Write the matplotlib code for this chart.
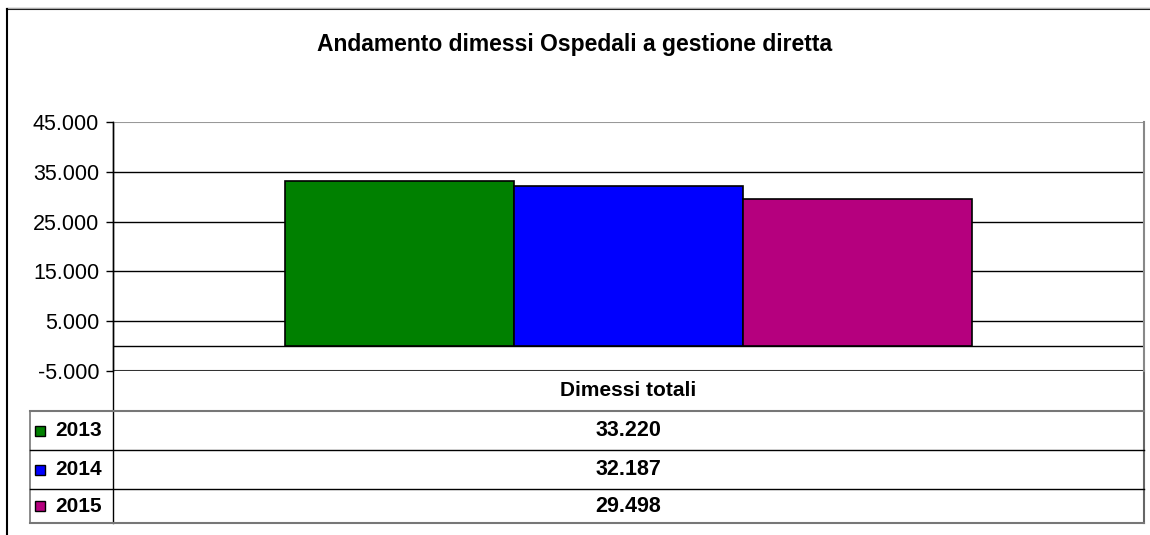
import matplotlib.pyplot as plt
from matplotlib.lines import Line2D
from matplotlib.patches import Rectangle
import numpy as np

plt.rcParams['font.family'] = ['Liberation Sans', 'DejaVu Sans']

# data
years = ["2013", "2014", "2015"]
dimessi = [33220, 32187, 29498]
colors = ["#008000", "#0000FF", "#B5007E"]
category = "Dimessi totali"
yticks = [-5000, 5000, 15000, 25000, 35000, 45000]
title = "Andamento dimessi Ospedali a gestione diretta"

W, H = 1150, 535
fig = plt.figure(figsize=(W / 100, H / 100), dpi=100)

# pixel helpers
def fx(px):
    return px / W

def fy(py):
    return 1 - py / H

# overlay axes in pixel coords for frame + table
ov = fig.add_axes([0, 0, 1, 1], zorder=0)
ov.set_xlim(0, W)
ov.set_ylim(H, 0)
ov.axis("off")

# main plot area
L, R, T, B = 113, 1144, 122, 371
ax = fig.add_axes([fx(L), fy(B), fx(R) - fx(L), fy(T) - fy(B)], zorder=1)
ax.patch.set_alpha(0)

n = len(years)
bw = (2 / 3) / n
xs = [(-1 / 3) + bw * (i + 0.5) for i in range(n)]
for x, v, c in zip(xs, dimessi, colors):
    ax.bar(x, v, width=bw, color=c, edgecolor="black", linewidth=1.2, zorder=3)

ax.set_xlim(-0.5, 0.5)
ax.set_ylim(yticks[0], yticks[-1])
ax.set_yticks(yticks)
ax.set_yticklabels([f"{t:,}".replace(",", ".") for t in yticks], fontsize=15.5)
ax.tick_params(axis="y", direction="out", length=5, width=1, pad=5)
ax.set_xticks([])
for yv in yticks[1:-1] + [0]:
    ax.axhline(yv, color="black", linewidth=1, zorder=1)
ax.axhline(yticks[0], color="#333333", linewidth=1.5, zorder=1)
ax.axhline(yticks[-1], color="#999999", linewidth=1.5, zorder=1)
for s in ["top", "bottom"]:
    ax.spines[s].set_visible(False)
ax.spines["right"].set_color("#888888")
ax.spines["right"].set_linewidth(1.5)
ax.spines["left"].set_linewidth(1)

# outer frame
ov.add_line(Line2D([7, W], [9, 9], color="black", linewidth=1.5))
ov.add_line(Line2D([7, W], [7.5, 7.5], color="#aaaaaa", linewidth=1))
ov.add_line(Line2D([7, 7], [9, H], color="black", linewidth=1.5))

# title
ov.text(575, 45, title, ha="center", va="center",
        fontsize=16.5, fontweight="bold")

# table
rows_y = [371, 411, 450, 489, 523]
tl = 30
ov.add_line(Line2D([L, L], [T, rows_y[-1]], color="black", linewidth=1))
ov.add_line(Line2D([R, R], [rows_y[0], rows_y[-1]], color="#666666", linewidth=1.5))
ov.add_line(Line2D([tl, tl], [rows_y[1], rows_y[-1]], color="#777777", linewidth=1.2))
for i, yy in enumerate(rows_y[1:]):
    lc = "#777777" if i in (0, 3) else "black"
    lw = 1.5 if i in (0, 3) else 1
    ov.add_line(Line2D([tl, R], [yy, yy], color=lc, linewidth=lw))

cx = L + (R - L) / 2
ov.text(cx, (rows_y[0] + rows_y[1]) / 2, category, ha="center", va="center",
        fontsize=15, fontweight="bold")
for i, (yr, v, c) in enumerate(zip(years, dimessi, colors)):
    ym = (rows_y[i + 1] + rows_y[i + 2]) / 2
    ov.add_patch(Rectangle((35, ym - 5), 10, 10, facecolor=c, edgecolor="black", linewidth=1))
    ov.text(55, ym, yr, ha="left", va="center", fontsize=15, fontweight="bold")
    ov.text(cx, ym, f"{v:,}".replace(",", "."), ha="center", va="center",
            fontsize=15.5, fontweight="bold")

fig.savefig("out.png", dpi=100)
